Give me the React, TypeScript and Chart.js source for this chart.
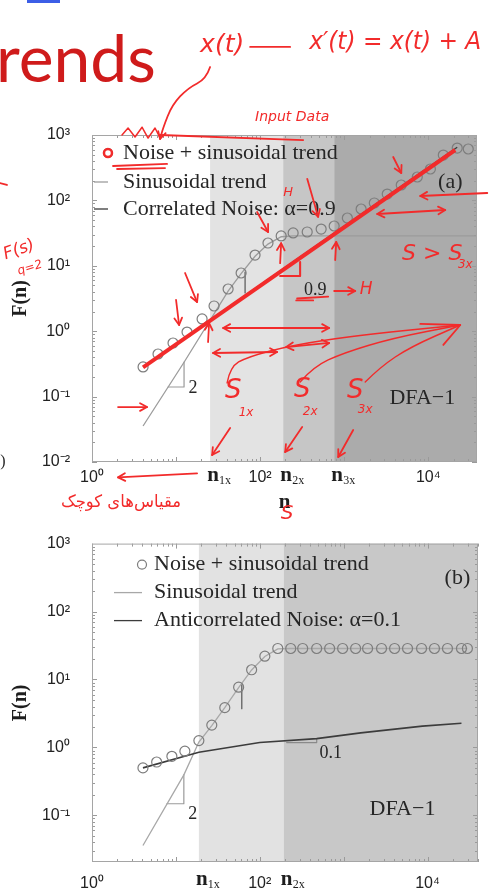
import React, { useEffect, useRef } from 'react';
import { Chart, registerables } from 'chart.js';
Chart.register(...registerables);

// ---------------- Panel (a) data ----------------
const A_CIRCLES_N = [4.05, 6.1, 9.2, 13.5, 20.4, 28.3, 41.6, 59.4, 87, 124, 178, 247, 363, 532, 760, 1090, 1590, 2280, 3250, 4770, 7400, 10600, 15100, 22100, 29900];
const A_CIRCLES_F = [0.284, 0.448, 0.66, 0.97, 1.54, 2.43, 4.42, 7.76, 14.6, 22.3, 28.6, 31.8, 32.9, 36.5, 40.6, 53.8, 73.9, 91.3, 125, 172, 228, 302, 494, 632, 611];
const A_TREND_N = [4.05, 12.5, 41.6, 59.4, 87, 124, 178, 250, 38000];
const A_TREND_F = [0.0355, 0.338, 4.1, 7.6, 14, 21.5, 27.8, 28.6, 28.6];
const A_CORR_N = [4.05, 28.3, 247, 1590, 7400, 22100];
const A_CORR_F = [0.284, 1.63, 11.5, 61.4, 245, 650];
const A_RED_N = [4.05, 20900];
const A_RED_F = [0.28, 590];
const A_REGIONS = [25.4, 188, 760];
const A_REGION_NAMES = ['1x', '2x', '3x'];
const A_X_TICKS = [1, 100, 10000];
const A_Y_TICKS = [0.01, 0.1, 1, 10, 100, 1000];
const A_LEGEND = ['Noise + sinusoidal trend', 'Sinusoidal trend', 'Correlated Noise: α=0.9'];

// ---------------- Panel (b) data ----------------
const B_CIRCLES_N = [4.05, 5.9, 8.96, 12.8, 18.8, 26.8, 38.3, 56, 80, 115, 164, 234, 325, 477, 681, 973, 1390, 1930, 2830, 4050, 5780, 8490, 12100, 17300, 25400, 29900];
const B_CIRCLES_F = [0.5, 0.61, 0.74, 0.88, 1.26, 2.13, 3.85, 7.7, 13.9, 22, 28.6, 28.6, 28.6, 28.6, 28.6, 28.6, 28.6, 28.6, 28.6, 28.6, 28.6, 28.6, 28.6, 28.6, 28.6, 28.6];
const B_TREND_N = [4.05, 12.5, 18.8, 26.8, 38.3, 56, 80, 115, 164, 234, 29900];
const B_TREND_F = [0.036, 0.398, 1.2, 2.1, 3.85, 7.6, 13.8, 21.8, 28.2, 28.6, 28.6];
const B_ANTI_N = [4.05, 18.8, 100, 477, 1600, 8700, 25400];
const B_ANTI_F = [0.5, 0.85, 1.18, 1.35, 1.64, 2.06, 2.27];
const B_REGIONS = [18.8, 193];
const B_REGION_NAMES = ['1x', '2x'];
const B_X_TICKS = [1, 100, 10000];
const B_Y_TICKS = [0.1, 1, 10, 100, 1000];
const B_LEGEND = ['Noise + sinusoidal trend', 'Sinusoidal trend', 'Anticorrelated Noise: α=0.1'];

// ---------------- styles / helpers ----------------
const RED = '#f22b2b';
const SERIF = '"Liberation Serif", "Times New Roman", serif';
const SANS = '"Liberation Sans", Arial, sans-serif';
const HAND = '"DejaVu Sans", sans-serif';

function powLabel(v: number): string {
  const e = Math.round(Math.log10(v));
  const map: Record<string, string> = { '-': '⁻', '0': '⁰', '1': '¹', '2': '²', '3': '³', '4': '⁴' };
  return '10' + String(e).split('').map((c) => map[c]).join('');
}
const toXY = (N: number[], F: number[]) => N.map((n, i) => ({ x: n, y: F[i] }));

// annotation geometry in log10 data coordinates [log n, log F]
type Note = { kind: string; pts?: number[][]; head?: string; text?: string; at?: number[]; size?: number; rot?: number; w?: number; color?: string; lw?: number };

const A_MARKS: Note[] = [
  { kind: 'poly', pts: [[0.905, -0.853], [1.095, -0.853], [1.095, -0.471]], color: '#9a9a9a' },
  { kind: 'poly', pts: [[1.821, 0.905], [1.821, 0.584]], color: '#555' },
  { kind: 'poly', pts: [[2.238, 0.844], [2.476, 0.844], [2.476, 1.058]], color: '#777' },
];
const A_LABELS: Note[] = [
  { kind: 'label', text: '2', at: [1.202, -0.869], size: 18 },
  { kind: 'label', text: '0.9', at: [2.655, 0.63], size: 18 },
  { kind: 'label', text: 'DFA−1', at: [3.929, -1.021], size: 22 },
  { kind: 'label', text: '(a)', at: [4.262, 2.281], size: 22 },
];
const B_MARKS: Note[] = [
  { kind: 'poly', pts: [[0.893, -0.829], [1.095, -0.829], [1.095, -0.4]], color: '#9a9a9a' },
  { kind: 'poly', pts: [[1.786, 0.929], [1.786, 0.57]], color: '#555' },
  { kind: 'poly', pts: [[2.321, 0.071], [2.679, 0.071], [2.679, 0.129]], color: '#8a8a8a' },
];
const B_LABELS: Note[] = [
  { kind: 'label', text: '2', at: [1.202, -0.986], size: 18 },
  { kind: 'label', text: '0.1', at: [2.845, -0.086], size: 18 },
  { kind: 'label', text: 'DFA−1', at: [3.702, -0.914], size: 22 },
  { kind: 'label', text: '(b)', at: [4.357, 2.486], size: 22 },
];

const A_NOTES: Note[] = [
  { kind: 'text', text: 'x(t)', at: [1.548, 4.376], size: 25 },
  { kind: 'poly', pts: [[1.881, 4.346], [2.357, 4.346]] },
  { kind: 'text', text: 'x′(t) = x(t) + A', at: [3.607, 4.407], size: 25, w: 172 },
  { kind: 'curve', pts: [[1.405, 4.04], [1.357, 3.856], [1.143, 3.719], [0.952, 3.459], [0.845, 3.107], [0.81, 2.939]], head: 'end' },
  { kind: 'text', text: 'Input Data', at: [2.381, 3.275], size: 14 },
  { kind: 'poly', pts: [[0.357, 3.0], [0.429, 3.107], [0.512, 2.969], [0.595, 3.119], [0.667, 2.954], [0.75, 3.107], [0.81, 2.954]], lw: 1.5 },
  { kind: 'poly', pts: [[0.81, 3.0], [2.512, 2.923]] },
  { kind: 'dot', at: [0.19, 2.725], size: 4 },
  { kind: 'poly', pts: [[0.25, 2.526], [0.893, 2.557]] },
  { kind: 'poly', pts: [[0.298, 2.48], [0.869, 2.495]] },
  { kind: 'text', text: 'H', at: [2.333, 2.113], size: 13 },
  { kind: 'poly', pts: [[2.56, 2.33], [2.69, 1.749]], head: 'end' },
  { kind: 'poly', pts: [[1.964, 1.823], [2.095, 1.517]], head: 'end' },
  { kind: 'poly', pts: [[2.238, 1.04], [2.25, 1.346]], head: 'end' },
  { kind: 'poly', pts: [[2.893, 1.089], [2.905, 1.364]], head: 'end' },
  { kind: 'poly', pts: [[3.583, 2.664], [3.679, 2.419]], head: 'end' },
  { kind: 'poly', pts: [[4.702, 2.113], [3.905, 2.067]], head: 'end' },
  { kind: 'poly', pts: [[3.393, 1.792], [4.202, 1.853]], head: 'both' },
  { kind: 'text', text: 'S > S', at: [4.048, 1.18], size: 22 },
  { kind: 'text', text: '3x', at: [4.44, 1.01], size: 12 },
  { kind: 'poly', pts: [[2.44, 0.5], [2.81, 0.53]] },
  { kind: 'poly', pts: [[2.429, 0.47], [2.631, 0.47]] },
  { kind: 'poly', pts: [[2.881, 0.615], [3.131, 0.615]], head: 'end' },
  { kind: 'text', text: 'H', at: [3.262, 0.63], size: 17 },
  { kind: 'poly', pts: [[2.238, 0.844], [2.476, 0.844], [2.476, 1.058]], lw: 2 },
  { kind: 'poly', pts: [[1.107, 0.89], [1.25, 0.446]], head: 'end' },
  { kind: 'poly', pts: [[1.0, 0.477], [1.036, 0.095]], head: 'end' },
  { kind: 'poly', pts: [[1.381, -0.165], [1.393, 0.125]], head: 'end' },
  { kind: 'poly', pts: [[1.56, 0.049], [2.821, 0.049]], head: 'both' },
  { kind: 'poly', pts: [[2.31, -0.242], [2.821, -0.18]], head: 'both' },
  { kind: 'poly', pts: [[1.44, -0.333], [2.202, -0.318]], head: 'both' },
  { kind: 'text', text: 'S', at: [1.679, -0.914], size: 26 },
  { kind: 'text', text: '1x', at: [1.833, -1.25], size: 12 },
  { kind: 'text', text: 'S', at: [2.5, -0.899], size: 26 },
  { kind: 'text', text: '2x', at: [2.595, -1.235], size: 12 },
  { kind: 'text', text: 'S', at: [3.131, -0.914], size: 26 },
  { kind: 'text', text: '3x', at: [3.25, -1.205], size: 12 },
  { kind: 'curve', pts: [[1.607, -0.792], [1.643, -0.547], [1.845, -0.394], [2.393, -0.21], [3.19, -0.058], [4.381, 0.095]], lw: 1.4 },
  { kind: 'curve', pts: [[2.476, -0.777], [2.631, -0.547], [2.988, -0.333], [3.583, -0.104], [4.381, 0.095]], lw: 1.4 },
  { kind: 'curve', pts: [[3.25, -0.777], [3.429, -0.547], [3.786, -0.242], [4.381, 0.095]], lw: 1.4 },
  { kind: 'poly', pts: [[3.905, 0.111], [4.381, 0.095], [4.179, -0.21]] },
  { kind: 'poly', pts: [[1.643, -1.48], [1.429, -1.893]], head: 'end' },
  { kind: 'poly', pts: [[2.5, -1.465], [2.298, -1.847]], head: 'end' },
  { kind: 'poly', pts: [[3.107, -1.511], [2.929, -1.924]], head: 'end' },
  { kind: 'poly', pts: [[0.31, -1.16], [0.655, -1.16]], head: 'end' },
  { kind: 'poly', pts: [[1.25, -2.174], [0.31, -2.235]], head: 'end' },
  { kind: 'rtl', text: 'مقیاس‌های کوچک', at: [0.345, -2.627], size: 17, w: 120 },
  { kind: 'text', text: 'S', at: [2.321, -2.795], size: 20 },
  { kind: 'text', text: 'F(s)', at: [-0.869, 1.242], size: 17, rot: -0.35 },
  { kind: 'text', text: 'q=2', at: [-0.738, 0.966], size: 12, rot: -0.3 },
  { kind: 'poly', pts: [[-1.095, 2.266], [-1.012, 2.236]] },
  { kind: 'label', text: ')', at: [-1.06, -2.0], size: 16 },
];

// ---------------- drawing helpers ----------------
function drawNotes(chart: any, notes: Note[]) {
  const { ctx, scales } = chart;
  const P = (p: number[]) => [scales.x.getPixelForValue(Math.pow(10, p[0])), scales.y.getPixelForValue(Math.pow(10, p[1]))];
  const head = (a: number[], b: number[], col: string) => {
    const ang = Math.atan2(b[1] - a[1], b[0] - a[0]);
    const L = 8;
    ctx.beginPath();
    ctx.moveTo(b[0] - L * Math.cos(ang - 0.5), b[1] - L * Math.sin(ang - 0.5));
    ctx.lineTo(b[0], b[1]);
    ctx.lineTo(b[0] - L * Math.cos(ang + 0.5), b[1] - L * Math.sin(ang + 0.5));
    ctx.strokeStyle = col;
    ctx.stroke();
  };
  ctx.save();
  ctx.lineCap = 'round';
  ctx.lineJoin = 'round';
  for (const n of notes) {
    const col = n.color || (n.kind === 'label' ? '#262626' : RED);
    if (n.kind === 'poly' || n.kind === 'curve') {
      const pts = (n.pts || []).map(P);
      ctx.lineWidth = n.lw ?? (n.color ? 1.2 : 1.8);
      ctx.strokeStyle = col;
      ctx.beginPath();
      ctx.moveTo(pts[0][0], pts[0][1]);
      if (n.kind === 'curve' && pts.length > 2) {
        for (let i = 1; i < pts.length - 1; i++) {
          const mx = (pts[i][0] + pts[i + 1][0]) / 2;
          const my = (pts[i][1] + pts[i + 1][1]) / 2;
          ctx.quadraticCurveTo(pts[i][0], pts[i][1], mx, my);
        }
        ctx.lineTo(pts[pts.length - 1][0], pts[pts.length - 1][1]);
      } else {
        for (let i = 1; i < pts.length; i++) ctx.lineTo(pts[i][0], pts[i][1]);
      }
      ctx.stroke();
      if (n.head === 'end' || n.head === 'both') head(pts[pts.length - 2], pts[pts.length - 1], col);
      if (n.head === 'start' || n.head === 'both') head(pts[1], pts[0], col);
    } else if (n.kind === 'dot') {
      const [x, y] = P(n.at!);
      ctx.beginPath();
      ctx.arc(x, y, n.size!, 0, Math.PI * 2);
      ctx.lineWidth = 2.5;
      ctx.strokeStyle = col;
      ctx.stroke();
    } else {
      const [x, y] = P(n.at!);
      ctx.save();
      ctx.translate(x, y);
      if (n.rot) ctx.rotate(n.rot);
      ctx.fillStyle = col;
      ctx.textAlign = 'center';
      ctx.textBaseline = 'middle';
      if (n.kind === 'label') ctx.font = `${n.size}px ${SERIF}`;
      else if (n.kind === 'rtl') { ctx.font = `${n.size}px ${HAND}`; ctx.direction = 'rtl'; }
      else ctx.font = `italic ${n.size}px ${HAND}`;
      if (n.w) ctx.fillText(n.text!, 0, 0, n.w);
      else ctx.fillText(n.text!, 0, 0);
      ctx.restore();
    }
  }
  ctx.restore();
}

function makePlugin(p: any) {
  return {
    id: 'panelDecor',
    beforeDatasetsDraw(chart: any) {
      const { ctx, chartArea: ca, scales } = chart;
      ctx.save();
      p.regions.forEach((n: number, i: number) => {
        const x0 = scales.x.getPixelForValue(n);
        const x1 = i + 1 < p.regions.length ? scales.x.getPixelForValue(p.regions[i + 1]) : ca.right;
        ctx.fillStyle = p.regionColors[i];
        ctx.fillRect(x0, ca.top, x1 - x0, ca.bottom - ca.top);
      });
      ctx.restore();
      drawNotes(chart, p.marks);
    },
    afterDatasetsDraw(chart: any) {
      const { ctx, chartArea: ca, scales } = chart;
      ctx.save();
      // minor ticks inside the frame
      ctx.strokeStyle = '#9a9a9a';
      ctx.lineWidth = 1;
      ctx.beginPath();
      for (let e = 0; e < 5; e++) for (let m = 1; m < 10; m++) {
        const v = m * Math.pow(10, e);
        if (v > scales.x.max) continue;
        const x = Math.round(scales.x.getPixelForValue(v)) + 0.5;
        const L = m === 1 ? 5 : 3;
        ctx.moveTo(x, ca.bottom); ctx.lineTo(x, ca.bottom - L);
        ctx.moveTo(x, ca.top); ctx.lineTo(x, ca.top + L);
      }
      for (let e = -2; e < 3; e++) for (let m = 1; m < 10; m++) {
        const v = m * Math.pow(10, e);
        if (v < scales.y.min || v > scales.y.max) continue;
        const y = Math.round(scales.y.getPixelForValue(v)) + 0.5;
        const L = m === 1 ? 5 : 3;
        ctx.moveTo(ca.left, y); ctx.lineTo(ca.left + L, y);
        ctx.moveTo(ca.right, y); ctx.lineTo(ca.right - L, y);
      }
      ctx.stroke();
      ctx.strokeStyle = '#a5a5a5';
      ctx.strokeRect(ca.left + 0.5, ca.top + 0.5, ca.right - ca.left - 1, ca.bottom - ca.top - 1);
      // region labels n_1x ...
      ctx.fillStyle = '#1e1e1e';
      p.regions.forEach((n: number, i: number) => {
        const px = scales.x.getPixelForValue(n) + 3;
        const py = ca.bottom + p.nLabelDy;
        ctx.font = `bold 21px ${SERIF}`;
        ctx.textAlign = 'center';
        ctx.textBaseline = 'middle';
        ctx.fillText('n', px, py);
        ctx.font = `12px ${SERIF}`;
        ctx.textAlign = 'left';
        ctx.fillText(p.regionNames[i], px + 6, py + 5);
      });
      // legend
      ctx.font = `22px ${SERIF}`;
      ctx.textBaseline = 'middle';
      ctx.textAlign = 'left';
      chart.data.datasets.forEach((ds: any, i: number) => {
        if (!ds.label) return;
        const y = ca.top + p.legend.rows[i];
        const mx = ca.left + p.legend.marker;
        ctx.beginPath();
        if (ds.legendKind === 'circle') {
          ctx.arc(mx, y, 4.5, 0, Math.PI * 2);
          ctx.strokeStyle = ds.pointBorderColor;
          ctx.lineWidth = 1.2;
        } else {
          ctx.moveTo(Math.max(ca.left + 2, mx - 28), y);
          ctx.lineTo(mx, y);
          ctx.strokeStyle = ds.borderColor;
          ctx.lineWidth = 1.3;
        }
        ctx.stroke();
        ctx.fillStyle = '#262626';
        ctx.fillText(ds.label, ca.left + p.legend.text, y);
      });
      ctx.restore();
      drawNotes(chart, p.labels);
      drawNotes(chart, p.notes);
    },
  };
}

function buildConfig(p: any): any {
  return {
    type: 'scatter',
    data: { datasets: p.datasets },
    options: {
      animation: false,
      responsive: false,
      devicePixelRatio: 1,
      events: [],
      layout: { padding: { top: p.padTop, right: p.padRight, left: 0, bottom: 0 } },
      plugins: { legend: { display: false }, tooltip: { enabled: false } },
      scales: {
        x: {
          type: 'logarithmic',
          min: 1,
          max: p.xMax,
          afterBuildTicks: (s: any) => { s.ticks = p.xTicks.map((v: number) => ({ value: v })); },
          afterFit: (s: any) => { s.height = p.xAxisH; },
          grid: { display: false },
          border: { display: false },
          ticks: { callback: (v: number) => powLabel(v), font: { family: SANS, size: 16 }, color: '#222', padding: p.xTickPad, maxRotation: 0, autoSkip: false },
          title: { display: !!p.xTitle, text: p.xTitle || '', font: { family: SERIF, size: 21, weight: 'bold' }, color: '#1e1e1e', padding: { top: 0, bottom: 5 } },
        },
        y: {
          type: 'logarithmic',
          min: p.yMin,
          max: 1000,
          afterBuildTicks: (s: any) => { s.ticks = p.yTicks.map((v: number) => ({ value: v })); },
          afterFit: (s: any) => { s.width = 92; },
          grid: { display: false },
          border: { display: false },
          ticks: { callback: (v: number) => powLabel(v), font: { family: SANS, size: 16 }, color: '#222', padding: 14, autoSkip: false },
          title: { display: true, text: 'F(n)', font: { family: SERIF, size: 20, weight: 'bold' }, color: '#1e1e1e', padding: { top: 9, bottom: 0 } },
        },
      },
    },
    plugins: [makePlugin(p)],
  };
}

const circleStyle = { showLine: false, pointRadius: 5, pointBorderWidth: 1.2, pointBorderColor: '#7d7d7d', pointBackgroundColor: 'rgba(0,0,0,0)', legendKind: 'circle' };
const lineStyle = (c: string, w: number) => ({ showLine: true, borderColor: c, borderWidth: w, pointRadius: 0, tension: 0, legendKind: 'line' });

const PANEL_A = {
  height: 520, padTop: 135, padRight: 12, xMax: 38000, yMin: 0.01, xAxisH: 58, xTickPad: -2, xTitle: 'n',
  xTicks: A_X_TICKS, yTicks: A_Y_TICKS,
  regions: A_REGIONS, regionNames: A_REGION_NAMES, regionColors: ['#e3e3e3', '#c6c6c6', '#ababab'], nLabelDy: 14,
  legend: { marker: 16, text: 31, rows: [18, 47, 74] },
  marks: A_MARKS, labels: A_LABELS, notes: A_NOTES,
  datasets: [
    { label: A_LEGEND[0], data: toXY(A_CIRCLES_N, A_CIRCLES_F), order: 1, ...circleStyle },
    { label: A_LEGEND[1], data: toXY(A_TREND_N, A_TREND_F), order: 3, ...lineStyle('#9c9c9c', 1.3) },
    { label: A_LEGEND[2], data: toXY(A_CORR_N, A_CORR_F), order: 2, ...lineStyle('#3a3a3a', 1.3) },
    { label: '', data: toXY(A_RED_N, A_RED_F), order: 0, ...lineStyle(RED, 4), legendKind: 'none' },
  ],
};

const PANEL_B = {
  height: 371, padTop: 14, padRight: 11, xMax: 40000, yMin: 0.0206, xAxisH: 29, xTickPad: 4, xTitle: '',
  xTicks: B_X_TICKS, yTicks: B_Y_TICKS,
  regions: B_REGIONS, regionNames: B_REGION_NAMES, regionColors: ['#e2e2e2', '#c8c8c8'], nLabelDy: 18,
  legend: { marker: 50, text: 62, rows: [21, 49, 77] },
  marks: B_MARKS, labels: B_LABELS, notes: [],
  datasets: [
    { label: B_LEGEND[0], data: toXY(B_CIRCLES_N, B_CIRCLES_F), order: 1, ...circleStyle },
    { label: B_LEGEND[1], data: toXY(B_TREND_N, B_TREND_F), order: 3, ...lineStyle('#a8a8a8', 1.3) },
    { label: B_LEGEND[2], data: toXY(B_ANTI_N, B_ANTI_F), order: 2, ...lineStyle('#3c3c3c', 1.6) },
  ],
};

function PanelChart({ panel, top }: { panel: any; top: number }) {
  const ref = useRef<HTMLCanvasElement>(null);
  useEffect(() => {
    const chart = new Chart(ref.current as HTMLCanvasElement, buildConfig(panel));
    return () => chart.destroy();
  }, [panel]);
  return (
    <canvas
      ref={ref}
      width={489}
      height={panel.height}
      style={{ position: 'absolute', left: 0, top, width: 489, height: panel.height }}
    />
  );
}

export default function App() {
  return (
    <div style={{ position: 'absolute', left: 0, top: 0, width: 489, height: 891, overflow: 'hidden', background: '#fff' }}>
      <div style={{ position: 'absolute', left: 27, top: 0, width: 33, height: 3, background: '#3c5ee6' }} />
      <div
        style={{
          position: 'absolute', left: -4, top: 24, fontFamily: 'Lato, "Open Sans", sans-serif', fontSize: 66,
          lineHeight: '66px', color: '#cf1b1b', whiteSpace: 'nowrap',
        }}
      >
        rends
      </div>
      <PanelChart panel={PANEL_A} top={0} />
      <PanelChart panel={PANEL_B} top={520} />
    </div>
  );
}
